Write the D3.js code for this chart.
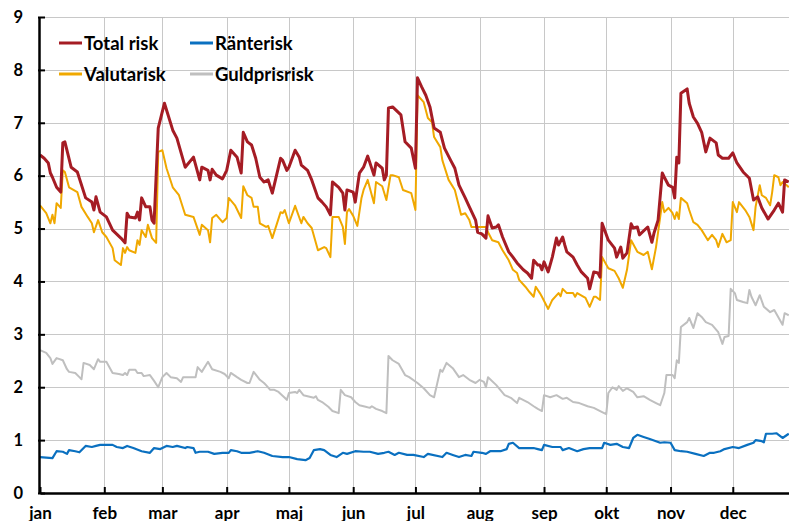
<!DOCTYPE html>
<html>
<head>
<meta charset="utf-8">
<script src="https://cdn.jsdelivr.net/npm/d3@7"></script>
<style>
  html, body { margin: 0; padding: 0; background: #fff; }
  svg { display: block; font-family: Lato, "Open Sans", sans-serif; font-weight: bold; }
</style>
</head>
<body>
<svg width="789" height="521"></svg>
<script>
// månadsetiketter och y-ticks
const months = ["jan", "feb", "mar", "apr", "maj", "jun", "jul", "aug", "sep", "okt", "nov", "dec"];
const yTicks = [0, 1, 2, 3, 4, 5, 6, 7, 8, 9];

// [dag på året, värde]
const totalRisk = [
  [0,6.39],[2,6.33],[4,6.24],[5,6.05],[6,5.97],[8,5.78],[10,5.69],[11,6.62],[12,6.64],[15,6.16],
  [18,6.07],[22,5.58],[25,5.5],[26,5.35],[27,5.6],[29,5.31],[32,5.22],[35,4.97],[39,4.82],[41,4.73],
  [42,5.29],[43,5.22],[46,5.2],[47,5.31],[48,5.16],[49,5.58],[51,5.41],[53,5.41],[54,5.16],[55,5.1],
  [57,6.9],[60,7.37],[64,6.86],[66,6.71],[70,6.16],[74,6.35],[77,5.92],[78,6.16],[81,6.1],[82,5.92],
  [83,6.12],[85,6.01],[88,5.94],[90,6.1],[92,6.48],[95,6.35],[97,6.05],[98,6.82],[100,6.64],[102,6.58],
  [104,6.33],[106,5.97],[108,5.88],[110,5.92],[112,5.67],[116,6.33],[117,6.29],[119,6.1],[120,6.16],[123,6.48],
  [125,6.35],[126,6.2],[129,6.1],[131,5.92],[134,5.58],[136,5.5],[138,5.41],[140,5.26],[141,5.88],[144,5.78],
  [146,5.67],[147,5.35],[148,5.73],[151,5.69],[152,5.5],[154,6.05],[156,6.16],[158,6.37],[161,6.01],[162,6.24],
  [165,6.14],[166,5.92],[167,6.01],[168,7.28],[170,7.3],[174,7.15],[176,6.64],[179,6.52],[181,6.14],[182,7.85],
  [184,7.68],[186,7.52],[188,7.3],[190,6.9],[193,6.82],[195,6.52],[198,6.29],[200,6.14],[202,5.82],[205,5.58],
  [207,5.41],[210,5.16],[211,4.93],[213,4.9],[215,4.82],[216,5.24],[218,5.01],[220,5.03],[221,5.07],[223,4.84],
  [226,4.56],[228,4.46],[230,4.35],[233,4.22],[235,4.16],[237,4.06],[238,4.4],[240,4.31],[241,4.31],[242,4.22],
  [243,4.37],[245,4.18],[247,4.46],[249,4.82],[250,4.69],[252,4.84],[253,4.69],[254,4.56],[257,4.46],[259,4.31],
  [261,4.18],[264,4.06],[265,3.86],[267,4.18],[269,4.16],[270,4.08],[271,5.1],[274,4.78],[277,4.63],[278,4.46],
  [280,4.65],[281,4.44],[283,4.54],[285,5.09],[286,5.01],[288,5.03],[289,4.88],[293,5.03],[295,4.74],[296,4.91],
  [298,5.16],[300,6.05],[301,5.97],[303,5.82],[305,5.78],[306,5.58],[307,6.35],[308,6.24],[309,7.56],[312,7.64],
  [313,7.37],[315,7.11],[317,6.99],[319,6.82],[321,6.45],[323,6.71],[326,6.62],[327,6.39],[329,6.33],[332,6.33],
  [334,6.43],[336,6.24],[339,6.07],[342,5.95],[344,5.54],[346,5.6],[348,5.39],[351,5.18],[354,5.35],[356,5.48],
  [358,5.31],[359,5.92],[361,5.88]
];

const valutaRisk = [
  [0,5.44],[3,5.29],[5,5.1],[6,5.26],[7,5.1],[8,5.48],[10,5.39],[11,6.1],[12,6.07],[14,5.78],
  [18,5.69],[20,5.41],[23,5.22],[25,5.1],[26,4.93],[28,5.16],[30,4.93],[32,4.84],[35,4.63],[36,4.4],
  [39,4.31],[40,4.63],[41,4.54],[42,4.65],[43,4.59],[46,4.54],[47,4.78],[48,4.69],[49,4.97],[51,4.84],
  [52,5.07],[54,4.82],[56,4.73],[57,6.45],[59,6.48],[61,6.14],[64,5.78],[67,5.63],[70,5.26],[74,5.22],
  [77,4.88],[78,5.07],[81,4.97],[82,4.74],[83,5.2],[85,5.26],[88,5.12],[90,5.2],[91,5.58],[94,5.44],
  [97,5.2],[98,5.8],[100,5.63],[102,5.58],[103,5.41],[105,5.41],[106,5.1],[109,5.03],[110,5.05],[112,4.82],
  [116,5.31],[117,5.29],[118,5.35],[120,5.1],[123,5.43],[126,5.1],[127,5.22],[129,5.1],[131,5.01],[134,4.59],
  [137,4.65],[138,4.63],[140,4.46],[141,5.22],[144,5.22],[146,5.03],[147,4.71],[148,5.31],[149,5.37],[151,5.24],
  [153,5.05],[155,5.58],[156,5.73],[158,5.92],[161,5.48],[162,5.88],[165,5.8],[167,5.54],[169,6.01],[170,6.01],
  [173,5.97],[175,5.73],[179,5.67],[181,5.35],[182,7.52],[185,7.39],[187,7.09],[189,7.01],[190,6.73],[193,6.54],
  [194,6.29],[197,5.92],[200,5.73],[203,5.26],[205,5.29],[207,5.16],[208,5.03],[210,5.03],[215,5.03],[216,4.93],
  [218,4.78],[221,4.74],[223,4.59],[226,4.4],[228,4.22],[230,4.16],[231,4.03],[234,3.9],[236,3.8],[238,3.71],
  [239,3.9],[241,3.78],[242,3.71],[245,3.48],[247,3.65],[250,3.78],[251,3.72],[252,3.86],[254,3.78],[257,3.78],
  [258,3.71],[259,3.78],[263,3.69],[265,3.52],[267,3.71],[268,3.71],[270,3.65],[271,4.46],[274,4.25],[277,4.2],
  [279,4.06],[281,3.88],[283,4.22],[285,4.78],[288,4.56],[291,4.5],[293,4.56],[295,4.23],[297,4.65],[300,5.5],
  [301,5.31],[303,5.39],[305,5.29],[306,5.18],[307,5.31],[308,5.18],[309,5.58],[312,5.48],[313,5.35],[315,5.12],
  [317,5.07],[319,4.97],[322,4.78],[324,4.88],[326,4.78],[327,4.65],[329,4.9],[331,4.74],[333,4.78],[334,5.5],
  [336,5.31],[337,5.5],[340,5.35],[342,5.22],[344,4.97],[345,5.41],[347,5.82],[348,5.63],[350,5.58],[352,5.44],
  [353,5.69],[354,6.01],[356,5.97],[357,5.82],[358,5.88],[360,5.82],[361,5.78]
];

const guldRisk = [
  [0,2.7],[3,2.65],[5,2.55],[6,2.44],[8,2.55],[11,2.51],[13,2.34],[14,2.29],[17,2.27],[19,2.19],
  [20,2.15],[21,2.46],[24,2.42],[26,2.34],[28,2.53],[29,2.48],[32,2.48],[35,2.27],[38,2.25],[40,2.23],
  [41,2.27],[42,2.23],[43,2.33],[46,2.33],[47,2.27],[49,2.27],[50,2.21],[53,2.23],[55,2.12],[57,2.0],
  [59,2.19],[61,2.27],[63,2.19],[66,2.17],[68,2.1],[69,2.19],[72,2.19],[75,2.19],[76,2.38],[78,2.29],
  [81,2.48],[83,2.34],[87,2.29],[89,2.25],[91,2.17],[92,2.27],[95,2.19],[97,2.14],[100,2.08],[101,2.08],
  [103,2.29],[105,2.19],[106,2.14],[108,2.08],[109,2.04],[111,1.95],[113,1.95],[115,1.91],[118,1.8],[119,1.76],
  [120,1.89],[123,1.91],[124,1.89],[125,1.95],[127,1.85],[129,1.83],[132,1.8],[133,1.83],[134,1.76],[136,1.72],
  [139,1.63],[141,1.55],[144,1.51],[145,1.95],[147,1.85],[150,1.81],[152,1.72],[154,1.66],[157,1.63],[159,1.61],
  [160,1.64],[162,1.59],[165,1.55],[167,1.51],[168,2.59],[170,2.51],[173,2.44],[176,2.23],[178,2.19],[182,2.08],
  [185,1.98],[188,1.85],[190,1.81],[193,2.33],[194,2.29],[196,2.46],[199,2.36],[202,2.19],[204,2.23],[207,2.14],
  [210,2.08],[212,2.14],[214,2.1],[215,2.0],[216,2.19],[220,2.04],[224,1.85],[227,1.8],[230,1.7],[231,1.8],
  [235,1.72],[238,1.64],[240,1.59],[242,1.55],[243,1.85],[246,1.81],[249,1.85],[252,1.78],[254,1.8],[257,1.72],
  [260,1.7],[264,1.64],[267,1.61],[271,1.53],[273,1.49],[274,1.89],[276,2.0],[278,1.95],[279,2.02],[281,1.93],
  [283,1.98],[286,1.91],[288,1.81],[291,1.83],[294,1.76],[297,1.7],[299,1.66],[301,1.89],[302,2.23],[305,2.23],
  [306,2.17],[307,2.51],[308,2.46],[309,3.14],[312,3.23],[313,3.31],[315,3.12],[317,3.4],[319,3.33],[321,3.23],
  [324,3.18],[327,3.04],[329,2.82],[330,2.95],[332,2.97],[333,3.86],[335,3.78],[336,3.65],[339,3.61],[341,3.59],
  [342,3.84],[343,3.71],[345,3.55],[347,3.74],[349,3.52],[352,3.42],[354,3.46],[358,3.18],[359,3.4],[361,3.36]
];

const ranteRisk = [
  [0,0.68],[6,0.66],[8,0.79],[11,0.78],[13,0.74],[14,0.81],[17,0.79],[19,0.77],[22,0.89],[25,0.87],
  [27,0.89],[29,0.91],[35,0.91],[37,0.87],[40,0.85],[42,0.89],[45,0.85],[49,0.79],[53,0.76],[55,0.85],
  [58,0.83],[61,0.89],[64,0.87],[66,0.89],[70,0.85],[71,0.87],[74,0.85],[75,0.76],[77,0.78],[81,0.78],
  [84,0.74],[88,0.76],[91,0.76],[92,0.81],[95,0.79],[97,0.76],[101,0.76],[105,0.79],[108,0.76],[112,0.7],
  [117,0.68],[120,0.68],[124,0.64],[128,0.62],[130,0.66],[132,0.81],[135,0.83],[137,0.81],[140,0.72],[143,0.68],
  [146,0.76],[148,0.74],[152,0.79],[156,0.78],[159,0.78],[163,0.74],[166,0.76],[168,0.78],[171,0.72],[173,0.76],
  [177,0.72],[180,0.72],[185,0.68],[187,0.74],[194,0.68],[196,0.76],[199,0.72],[202,0.68],[205,0.72],[208,0.7],
  [209,0.78],[213,0.76],[215,0.74],[217,0.79],[222,0.79],[225,0.83],[226,0.93],[228,0.95],[231,0.85],[235,0.85],
  [238,0.85],[240,0.83],[242,0.81],[243,0.91],[247,0.87],[251,0.87],[252,0.81],[255,0.85],[259,0.79],[262,0.83],
  [265,0.85],[268,0.85],[271,0.85],[272,0.95],[275,0.91],[278,0.93],[281,0.87],[284,0.85],[286,1.04],[288,1.1],
  [291,1.06],[294,1.02],[297,0.98],[299,0.95],[301,0.96],[304,0.95],[306,0.81],[309,0.79],[312,0.78],[316,0.74],
  [320,0.7],[323,0.76],[325,0.76],[328,0.79],[330,0.83],[334,0.87],[337,0.85],[341,0.91],[344,0.95],[345,1.0],
  [348,0.98],[349,0.96],[350,1.12],[353,1.12],[355,1.13],[358,1.04],[361,1.12]
];

const series = [
  { name: "Guldprisrisk", data: guldRisk, color: "#bfbfbf", width: 2 },
  { name: "Ränterisk", data: ranteRisk, color: "#0a70c0", width: 2.2 },
  { name: "Valutarisk", data: valutaRisk, color: "#f0a800", width: 2 },
  { name: "Total risk", data: totalRisk, color: "#a51c24", width: 3 },
];

const year = 2023;
const start = new Date(year, 0, 1);
const toDate = (d) => d3.timeDay.offset(start, d);

const svg = d3.select("svg");
const containerWidth = 789;
const marginLeft = 39;
const marginTop = 17;
const plotBottom = 493;
const plotRight = 795;

const x = d3
  .scaleTime()
  .domain([start, new Date(year, 11, 31)])
  .range([marginLeft + 1, plotRight]);
const y = d3.scaleLinear().domain([0, 9]).range([plotBottom, marginTop]);

// rutnät
const grid = svg.append("g");
grid
  .selectAll("line.h")
  .data(yTicks.filter((d) => d > 0))
  .enter()
  .append("line")
  .attr("x1", marginLeft)
  .attr("x2", containerWidth)
  .attr("y1", (d) => Math.round(y(d)) + 0.5)
  .attr("y2", (d) => Math.round(y(d)) + 0.5)
  .attr("stroke", "#c8c8c8")
  .attr("stroke-width", 1);
grid
  .selectAll("line.v")
  .data(d3.timeMonth.range(new Date(year, 1, 1), new Date(year, 11, 2)))
  .enter()
  .append("line")
  .attr("x1", (d) => Math.round(x(d)) + 0.5)
  .attr("x2", (d) => Math.round(x(d)) + 0.5)
  .attr("y1", marginTop)
  .attr("y2", plotBottom)
  .attr("stroke", "#c8c8c8")
  .attr("stroke-width", 1);

// linjer
const line = d3
  .line()
  .x((d) => x(toDate(d[0])))
  .y((d) => y(d[1]));
svg
  .append("g")
  .selectAll("path")
  .data(series)
  .enter()
  .append("path")
  .attr("fill", "none")
  .attr("stroke", (d) => d.color)
  .attr("stroke-width", (d) => d.width)
  .attr("stroke-linejoin", "round")
  .attr("d", (d) => line(d.data));

// y-axel
const yAxis = svg
  .append("g")
  .attr("transform", `translate(${marginLeft},0)`)
  .call(d3.axisLeft(y).tickValues(yTicks).tickSizeInner(-6).tickSizeOuter(0).tickPadding(16));
yAxis.select(".domain").attr("stroke", "#000").attr("stroke-width", 2.5);
yAxis.selectAll(".tick line").attr("stroke", "#000").attr("stroke-width", 2).attr("x1", -1);
yAxis
  .selectAll(".tick text")
  .attr("fill", "#000")
  .attr("font-size", 16.5)
  .attr("font-weight", "bold")
  .attr("font-family", "Lato, sans-serif");

// x-axel, ticks inåt
const xAxis = svg
  .append("g")
  .attr("transform", `translate(0,${plotBottom})`)
  .call(
    d3
      .axisBottom(x)
      .ticks(d3.timeMonth.every(1))
      .tickFormat((d) => months[d.getMonth()])
      .tickSizeInner(-6)
      .tickSizeOuter(0)
      .tickPadding(14),
  );
xAxis.select(".domain").attr("stroke", "#000").attr("stroke-width", 2.5);
xAxis.selectAll(".tick line").attr("stroke", "#000").attr("stroke-width", 2);
xAxis
  .selectAll(".tick text")
  .attr("fill", "#000")
  .attr("font-size", 17)
  .attr("font-weight", "bold")
  .attr("font-family", "Lato, sans-serif");

// legend
const legendOrder = ["Total risk", "Ränterisk", "Valutarisk", "Guldprisrisk"];
const legend = svg
  .append("g")
  .selectAll("g")
  .data(legendOrder.map((n) => series.find((s) => s.name === n)))
  .enter()
  .append("g")
  .attr("transform", (d, i) => `translate(${59 + (i % 2) * 131},${43 + Math.floor(i / 2) * 31})`);
legend
  .append("line")
  .attr("x1", 0)
  .attr("x2", 23)
  .attr("stroke", (d) => d.color)
  .attr("stroke-width", 3);
legend
  .append("text")
  .attr("x", 25)
  .attr("dominant-baseline", "central")
  .attr("font-size", 18.5)
  .attr("fill", "#000")
  .text((d) => d.name);
</script>
</body>
</html>
